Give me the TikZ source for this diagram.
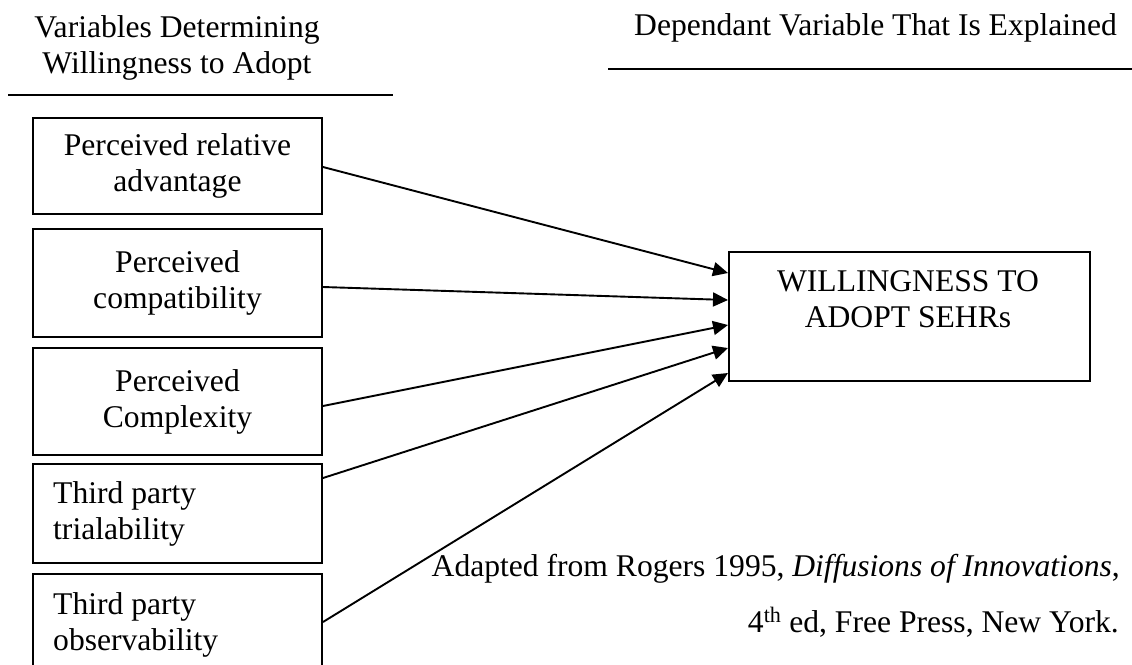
\documentclass[tikz,border=0pt]{standalone}
\usepackage{fontspec}
\setmainfont{Liberation Serif}
\usetikzlibrary{arrows.meta}

\begin{document}
\begin{tikzpicture}[x=1pt,y=-1pt,
  txt/.style={font=\fontsize{31.6}{36}\selectfont, inner sep=0pt},
  varbox/.style={draw, line width=2pt, rectangle, anchor=north west,
    minimum width=289pt, inner sep=0pt, font=\fontsize{31.6}{36}\selectfont},
  rulebar/.style={line width=2pt},
  link/.style={line width=1.9pt, -{Triangle[length=15pt,width=14pt]}}
]
\useasboundingbox (0,0) rectangle (1132,664);

% column headings and their rules
\node[txt, align=center, anchor=north] (lefthead) at (177,15.5)
  {Variables Determining\\Willingness to Adopt};
\node[txt, anchor=base east] (righthead) at (1117,35)
  {Dependant Variable That Is Explained};
\coordinate (lr1) at (8,94.5);
\coordinate (lr2) at (393,94.5);
\coordinate (rr1) at (608,69);
\coordinate (rr2) at (1132,69);
\draw[rulebar] (lr1) -- (lr2);
\draw[rulebar] (rr1) -- (rr2);

% independent variables
\node[varbox, minimum height=96pt, align=center] (b1) at (32,117)
  {Perceived relative\\advantage};
\node[varbox, minimum height=108pt, align=center] (b2) at (32,228)
  {Perceived\\compatibility};
\node[varbox, minimum height=107pt, align=center] (b3) at (32,347)
  {Perceived\\Complexity};
\node[varbox, minimum height=99pt] (b4) at (32,463) {};
\node[txt, align=left, anchor=north west] (b4text) at (53,481.5)
  {Third party\\trialability};
\node[varbox, minimum height=110pt] (b5) at (32,573) {};
\node[txt, align=left, anchor=north west] (b5text) at (53,592.5)
  {Third party\\observability};

% dependent variable
\node[draw, line width=2pt, rectangle, anchor=north west, inner sep=0pt,
  minimum width=361pt, minimum height=129pt] (target) at (728,251) {};
\node[txt, align=center, anchor=north] (targettext) at (908,270)
  {WILLINGNESS TO\\ADOPT SEHRs};

% influences
\draw[link] ([yshift=-1pt]b1.east)   -- ([yshift=43.5pt]target.west);
\draw[link] ([yshift=-4pt]b2.east)   -- ([yshift=16.5pt]target.west);
\draw[link] ([yshift=-4.5pt]b3.east) -- ([yshift=-8.5pt]target.west);
\draw[link] ([yshift=35.5pt]b4.east) -- ([yshift=-31.5pt]target.west);
\draw[link] ([yshift=7pt]b5.east)    -- ([yshift=-56.5pt]target.west);

% source
\node[txt, anchor=base east] (cite1) at (1120,576)
  {Adapted from Rogers 1995, \textit{Diffusions of Innovations},};
\node[txt, anchor=base east] (cite2) at (1119,632)
  {4\textsuperscript{th} ed, Free Press, New York.};
\end{tikzpicture}
\end{document}
